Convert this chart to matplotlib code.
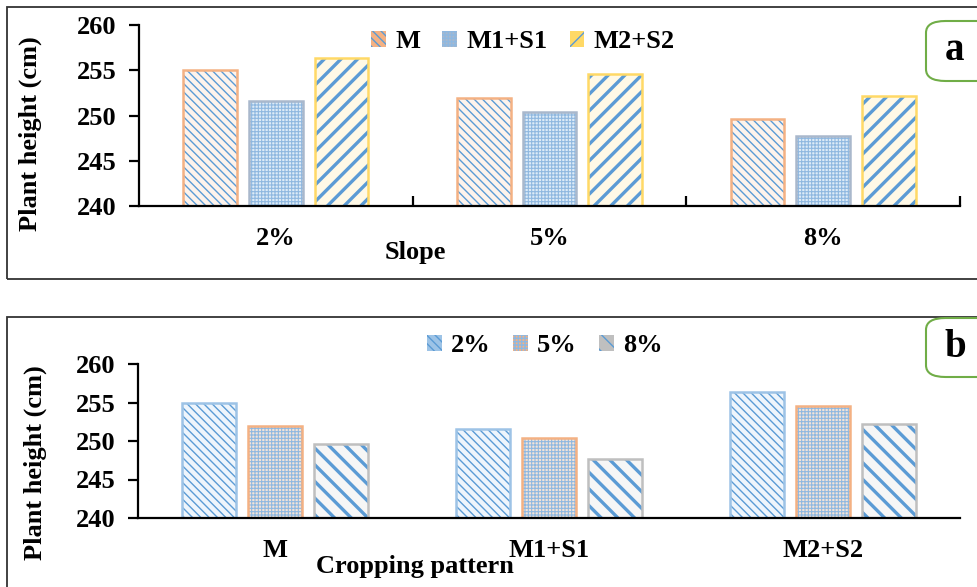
import matplotlib.pyplot as plt
from matplotlib.patches import Rectangle, FancyBboxPatch, Patch
import numpy as np

slopes = ['2%', '5%', '8%']
patterns = ['M', 'M1+S1', 'M2+S2']
# plant height (cm) for each cropping pattern at slope 2%, 5%, 8%
h_M = [255.0, 251.9, 249.6]
h_M1S1 = [251.6, 250.4, 247.7]
h_M2S2 = [256.3, 254.6, 252.2]

plt.rcParams['font.family'] = ['Liberation Serif', 'DejaVu Serif']
plt.rcParams['font.weight'] = 'bold'
plt.rcParams['axes.labelweight'] = 'bold'

W, H = 978, 587
fig = plt.figure(figsize=(W / 100, H / 100), dpi=100)


def fx(px):
    return px / W


def fy(py):
    return 1 - py / H


# styles: face, hatch, hatch colour, hatch width, edge colour
style_a = [
    ('#FDF3EC', r'\\\\', '#5B9BD5', 1.0, '#F4B183'),
    ('#DDEBF7', '+++++', '#8FB8E0', 0.8, '#A9B8CC'),
    ('#FFF9E6', '//', '#5B9BD5', 2.4, '#FFD966'),
]
style_b = [
    ('#EEF5FC', r'\\\\', '#5B9BD5', 1.0, '#9DC3E6'),
    ('#F3E3D8', '+++++', '#8FB8E0', 0.8, '#F4B183'),
    ('#F6F6F6', r'\\', '#5B9BD5', 2.4, '#BFBFBF'),
]


def draw_bars(ax, x, vals, st, w):
    face, hatch, hcol, hlw, edge = st
    with plt.rc_context({'hatch.linewidth': hlw}):
        bars = ax.bar(x, vals, w, color=face, edgecolor=hcol, hatch=hatch, linewidth=0)
        for b in bars:
            if hasattr(b, 'set_hatch_linewidth'):
                b.set_hatch_linewidth(hlw)
    ax.bar(x, vals, w, fill=False, edgecolor=edge, linewidth=1.8)


def legend_handle(st):
    face, hatch, hcol, hlw, edge = st
    p = Patch(facecolor=edge, edgecolor=hcol, hatch=hatch, linewidth=0)
    if hasattr(p, 'set_hatch_linewidth'):
        p.set_hatch_linewidth(hlw)
    return p


def style_axes(ax):
    ax.set_ylim(240, 260)
    ax.set_xlim(-0.5, 2.5)
    ax.set_yticks([240, 245, 250, 255, 260])
    for s in ['top', 'right']:
        ax.spines[s].set_visible(False)
    for s in ['left', 'bottom']:
        ax.spines[s].set_linewidth(1.6)
    ax.tick_params(axis='y', direction='out', length=7, width=1.6, labelsize=19, pad=9)
    ax.tick_params(axis='x', length=0, labelsize=19, pad=15)


w = 0.197
off = 0.24
x = np.arange(3)

# frames
fig.patches.append(Rectangle((fx(7), fy(279)), fx(980) - fx(7), fy(7) - fy(279),
                             transform=fig.transFigure, fill=False, ec='#333333', lw=1.3))
fig.patches.append(Rectangle((fx(7), fy(600)), fx(980) - fx(7), fy(317) - fy(600),
                             transform=fig.transFigure, fill=False, ec='#333333', lw=1.3))

# panel a
ax1 = fig.add_axes([fx(139), fy(206), fx(960) - fx(139), fy(25) - fy(206)])
for i, vals in enumerate([h_M, h_M1S1, h_M2S2]):
    draw_bars(ax1, x + (i - 1) * off, vals, style_a[i], w)
style_axes(ax1)
ax1.set_xticks(x)
ax1.set_xticklabels(slopes)
ax1.set_xticks([0.5, 1.5, 2.5], minor=True)
ax1.tick_params(axis='x', which='minor', direction='in', length=7, width=1.6)
ax1.set_ylabel('Plant height (cm)', fontsize=19)
ax1.yaxis.set_label_coords(-0.118, 0.40)
ax1.legend([legend_handle(s) for s in style_a], patterns, ncol=3, frameon=False,
           fontsize=19, handlelength=0.55, handleheight=0.55, handletextpad=0.35,
           columnspacing=0.85, loc='center', bbox_to_anchor=(fx(523), fy(42)),
           bbox_transform=fig.transFigure)
fig.text(fx(415), fy(253), 'Slope', ha='center', va='center', fontsize=19)

# panel b
ax2 = fig.add_axes([fx(138), fy(518), fx(960) - fx(138), fy(364) - fy(518)])
by_slope = np.array([h_M, h_M1S1, h_M2S2]).T
for i in range(3):
    draw_bars(ax2, x + (i - 1) * off, by_slope[i], style_b[i], w)
style_axes(ax2)
ax2.set_xticks(x)
ax2.set_xticklabels(patterns)
ax2.set_ylabel('Plant height (cm)', fontsize=19)
ax2.yaxis.set_label_coords(-0.111, 0.36)
ax2.legend([legend_handle(s) for s in style_b], slopes, ncol=3, frameon=False,
           fontsize=19, handlelength=0.55, handleheight=0.55, handletextpad=0.35,
           columnspacing=0.85, loc='center', bbox_to_anchor=(fx(545), fy(346)),
           bbox_transform=fig.transFigure)
fig.text(fx(415), fy(567), 'Cropping pattern', ha='center', va='center', fontsize=19)

# panel letters
for top, bot, letter in [(21, 81, 'a'), (318, 377, 'b')]:
    fig.patches.append(FancyBboxPatch((fx(926), fy(bot)), fx(70), fy(top) - fy(bot),
                                      boxstyle='round,pad=0,rounding_size=0.02',
                                      transform=fig.transFigure, fc='white',
                                      ec='#70AD47', lw=1.5))
    fig.text(fx(955), fy((top + bot) / 2), letter, ha='center', va='center', fontsize=28)

fig.savefig('out.png', dpi=100)
